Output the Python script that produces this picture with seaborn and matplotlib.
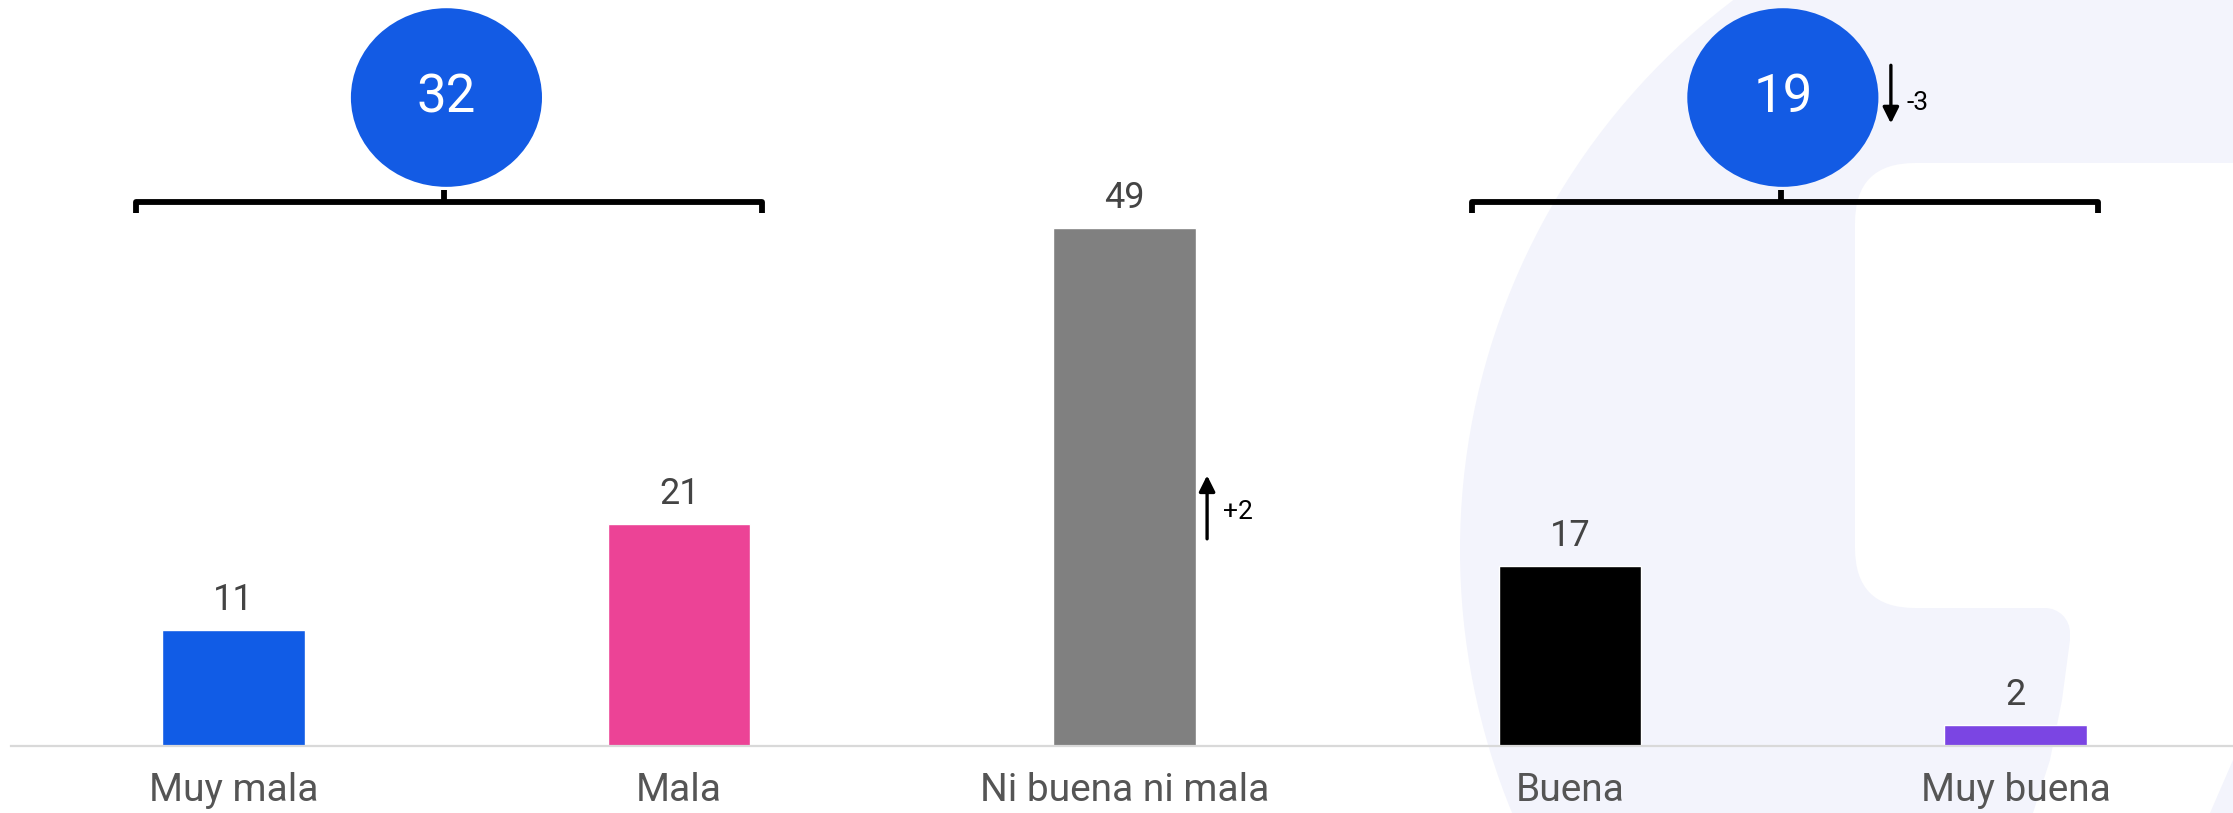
import matplotlib
matplotlib.use('Agg')
import matplotlib.pyplot as plt
import seaborn as sns
from matplotlib.patches import Ellipse, Circle, Rectangle, FancyBboxPatch, Polygon

# Chart data
categories = ['Muy mala', 'Mala', 'Ni buena ni mala', 'Buena', 'Muy buena']
values = [11, 21, 49, 17, 2]
bar_colors = ['#115ce6', '#ec4396', '#808080', '#000000', '#7b45e3']

# grouped totals shown in the blue bubbles
group_spans = [(0, 1), (3, 4)]
group_totals = [32, 19]

# change markers
bar_change_idx = 2
bar_change_text = '+2'
group_change_idx = 1
group_change_text = '-3'

sns.set_style('white')
plt.rcParams['font.family'] = ['Roboto', 'DejaVu Sans']

W, H = 2233, 813
fig = plt.figure(figsize=(W / 100, H / 100), dpi=100)

# faint watermark in the background (pixel coordinates)
bg = fig.add_axes([0, 0, 1, 1])
bg.set_xlim(0, W)
bg.set_ylim(H, 0)
bg.axis('off')
lav = '#f3f4fc'
bg.add_patch(Circle((2150, 550), 690, color=lav, lw=0))
bg.add_patch(FancyBboxPatch((1855 + 60, 163 + 60), 600, 445 - 120,
                            boxstyle='round,pad=60', color='white', lw=0))
bg.add_patch(Polygon([(2070, 560), (2300, 560), (2300, 700), (2233, 760),
                      (2210, 813), (2205, 840), (2033, 840), (2033, 813),
                      (2050, 760), (2062, 700), (2070, 640)],
                     closed=True, color='white', lw=0))
bg.add_patch(Rectangle((2070 - 25, 608), 25, 25, color='white', lw=0))
bg.add_patch(Circle((2070 - 25, 608 + 25), 25, color=lav, lw=0))

# main axes
px_unit = 10.57
base_px = 746
ax = fig.add_axes([11 / W, (H - base_px) / H, 1 - 11 / W, base_px / H])
ax.patch.set_alpha(0)

sns.barplot(x=categories, y=values, hue=categories, palette=bar_colors,
            width=0.32, legend=False, saturation=1, ax=ax)

ax.set_xlim(-0.5, (W - 233.6) / 445.5)
ax.set_ylim(0, base_px / px_unit)

for s in ['top', 'left', 'right']:
    ax.spines[s].set_visible(False)
ax.spines['bottom'].set_color('#d9d9d9')
ax.spines['bottom'].set_linewidth(1.6)
ax.set_yticks([])
ax.tick_params(axis='x', length=0, pad=19, labelsize=28, labelcolor='#555555')
ax.set_xlabel('')
ax.set_ylabel('')

# value labels
for i, v in enumerate(values):
    ax.text(i, v + 1.9, str(v), ha='center', va='baseline',
            fontsize=26, color='#444444')

# brackets + bubbles
y_bar, y_end, y_top = 51.5, 50.4, 52.6
bubble_y = 61.35
mids = []
for (i0, i1), tot in zip(group_spans, group_totals):
    lo, hi = i0 - 0.22, i1 + 0.185
    mid = (lo + hi) / 2 - 0.01
    mids.append(mid)
    ax.plot([lo, lo, hi, hi], [y_end, y_bar, y_bar, y_end], color='black',
            lw=4.2, solid_joinstyle='round', solid_capstyle='butt', clip_on=False)
    ax.plot([mid, mid], [y_bar, y_top], color='black', lw=4.2,
            solid_capstyle='butt', clip_on=False)
    ax.add_patch(Ellipse((mid + 0.005, bubble_y), 0.429, 16.9,
                         color='#135be4', lw=0, clip_on=False))
    ax.text(mid + 0.005, bubble_y, str(tot), ha='center', va='center',
            fontsize=38, color='white')

# change arrows
arr = dict(arrowstyle='-|>', color='black', lw=2.4, mutation_scale=24,
           shrinkA=0, shrinkB=0)
bx = bar_change_idx + 0.185
ax.annotate('', xy=(bx, 25.6), xytext=(bx, 19.6), arrowprops=arr)
ax.text(bx + 0.035, 22.1, bar_change_text, ha='left', va='center',
        fontsize=19, color='black')

gx = mids[group_change_idx] + 0.2475
ax.annotate('', xy=(gx, 58.9), xytext=(gx, 64.4), arrowprops=arr)
ax.text(gx + 0.035, 60.8, group_change_text, ha='left', va='center',
        fontsize=19, color='black')

fig.savefig('out.png', dpi=100, facecolor='white')
